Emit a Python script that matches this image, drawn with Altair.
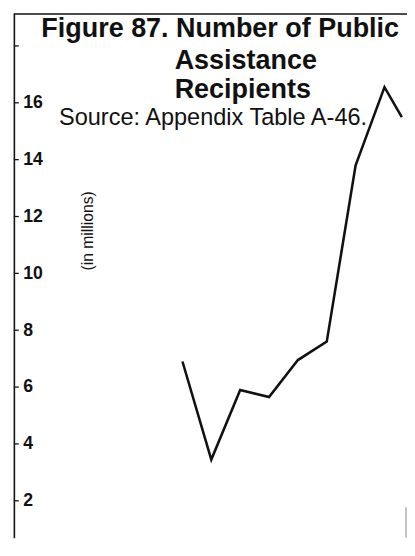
import altair as alt
import pandas as pd

# Data (millions of public assistance recipients)
years = [1940, 1945, 1950, 1955, 1960, 1965, 1970, 1975, 1978]
recipients = [6.9, 3.45, 5.9, 5.65, 6.95, 7.6, 13.8, 16.55, 15.5]
tick_values = [2, 4, 6, 8, 10, 12, 14, 16, 18]
label_values = [2, 4, 6, 8, 10, 12, 14, 16]

title_line1 = "Figure 87. Number of Public"
title_rest = ["Assistance", "Recipients"]
source_text = "Source: Appendix Table A-46."
unit_text = "(in millions)"

W, H = 401, 535
FONT = "Liberation Sans"
y_dom = [0.7, 19.15]
x_dom = [1910.8, 1978.9]

df = pd.DataFrame({"year": years, "value": recipients})
ticks_df = pd.DataFrame({"value": tick_values})
one = pd.DataFrame({"k": [0]})

y_axis = alt.Axis(
    values=label_values,
    title=None,
    grid=False,
    ticks=False,
    tickSize=0,
    domain=True,
    domainColor="#111111",
    domainWidth=1.6,
    labelAlign="left",
    labelBaseline="middle",
    labelPadding=-9,
    labelFont=FONT,
    labelFontSize=18,
    labelFontWeight="bold",
    labelColor="#111111",
)
y_scale = alt.Scale(domain=y_dom, nice=False, zero=False)

line = alt.Chart(df).mark_line(color="#111111", strokeWidth=2.6, strokeJoin="miter").encode(
    x=alt.X("year:Q", scale=alt.Scale(domain=x_dom, nice=False, zero=False), axis=None),
    y=alt.Y("value:Q", scale=y_scale, axis=y_axis),
)

tick_marks = alt.Chart(ticks_df).mark_rule(color="#111111", strokeWidth=1.3).encode(
    y=alt.Y("value:Q", scale=y_scale, axis=y_axis),
    x=alt.value(0),
    x2=alt.value(5),
)

top_border = alt.Chart(one).mark_rule(color="#111111", strokeWidth=1.6).encode(
    y=alt.value(0.8), x=alt.value(0), x2=alt.value(W)
)

right_edge = alt.Chart(one).mark_rule(color="#9a9a9a", strokeWidth=1.2).encode(
    x=alt.value(W - 1), y=alt.value(504), y2=alt.value(H)
)

t1 = alt.Chart(one).mark_text(
    text=title_line1, font=FONT, fontSize=27.5, fontWeight="bold", align="left",
    baseline="alphabetic", color="#111111"
).encode(x=alt.value(28), y=alt.value(24))

t2 = alt.Chart(one).mark_text(
    text=title_rest, font=FONT, fontSize=27.5, fontWeight="bold", align="left",
    baseline="alphabetic", lineHeight=29, color="#111111"
).encode(x=alt.value(164), y=alt.value(57))

src = alt.Chart(one).mark_text(
    text=source_text, font=FONT, fontSize=24, align="left",
    baseline="alphabetic", color="#111111"
).encode(x=alt.value(46), y=alt.value(114))

unit = alt.Chart(one).mark_text(
    text=unit_text, font=FONT, fontSize=16, angle=270, align="center",
    baseline="middle", color="#111111"
).encode(x=alt.value(76), y=alt.value(222))

chart = alt.layer(line, tick_marks, top_border, right_edge, t1, t2, src, unit).properties(
    width=W,
    height=H,
    autosize=alt.AutoSizeParams(type="none"),
    padding={"left": 6, "top": 0, "right": 0, "bottom": 0},
    background="white",
).configure_view(stroke=None)

chart.save("out.html", embed_options={"renderer": "svg", "actions": False})
